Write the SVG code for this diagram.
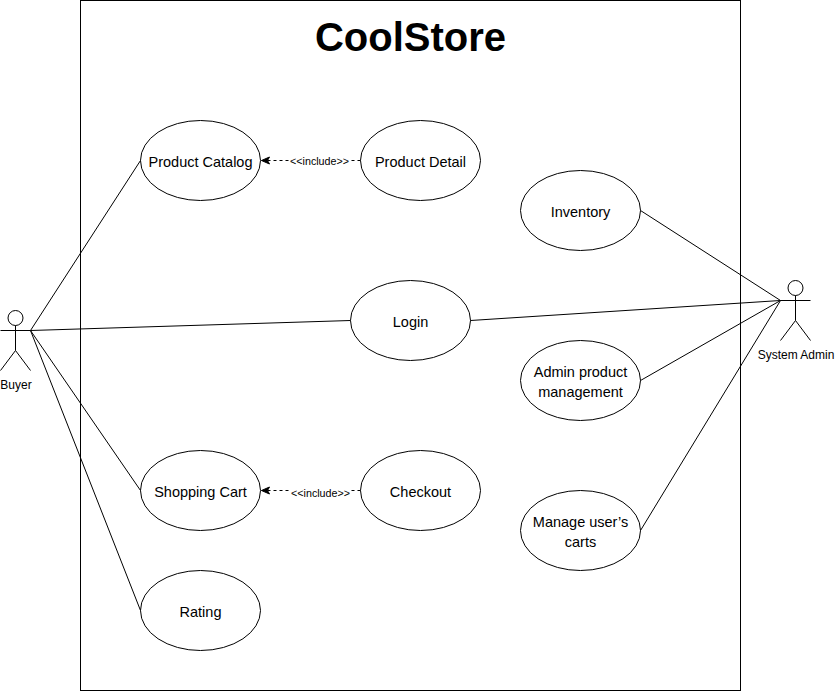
<svg xmlns="http://www.w3.org/2000/svg" width="835" height="691" viewBox="0 0 835 691">
<defs>
<marker id="arr" markerUnits="userSpaceOnUse" markerWidth="10" markerHeight="10" refX="9" refY="5" orient="auto"><path d="M1 1.5L9 5L1 8.5L3 5Z" fill="#000" stroke="#000" stroke-width="1"/></marker>
</defs>
<style>
text{font-family:"Liberation Sans",Arial,sans-serif;fill:#000;text-anchor:middle}
.uc{fill:#fff;stroke:#000;stroke-width:1}
.t{font-size:14.5px}
.a{font-size:12px}
.s{fill:none;stroke:#000;stroke-width:1}
.c{stroke:#000;stroke-width:1;fill:none}
.d{stroke:#000;stroke-width:1;fill:none;stroke-dasharray:3 3}
.l{font-size:10.7px}
</style>
<rect width="835" height="691" fill="#fff"/>
<g id="boundary"><rect x="80.5" y="0.5" width="660" height="690" fill="#fff" stroke="#000"/><text x="410.5" y="51" font-size="40" font-weight="bold">CoolStore</text></g>
<g id="buyer"><circle class="s" cx="15.5" cy="318" r="7.5"/><path class="s" d="M15.5 325.5V350.5M0.5 330.5H30.5M15.5 350.5L0.5 370.5M15.5 350.5L30.5 370.5"/><text class="a" x="16" y="389">Buyer</text></g>
<g id="system-admin"><circle class="s" cx="795.5" cy="288" r="7.5"/><path class="s" d="M795.5 295.5V320.5M780.5 300.5H810.5M795.5 320.5L780.5 340.5M795.5 320.5L810.5 340.5"/><text class="a" x="796" y="359">System Admin</text></g>
<g id="product-catalog"><ellipse class="uc" cx="200.5" cy="160.5" rx="60" ry="40"/><text class="t" x="200.5" y="167">Product Catalog</text></g>
<g id="product-detail"><ellipse class="uc" cx="420.5" cy="160.5" rx="60" ry="40"/><text class="t" x="420.5" y="167">Product Detail</text></g>
<g id="inventory"><ellipse class="uc" cx="580.5" cy="210.5" rx="60" ry="40"/><text class="t" x="580.5" y="217">Inventory</text></g>
<g id="login"><ellipse class="uc" cx="410.5" cy="320.5" rx="60" ry="40"/><text class="t" x="410.5" y="327">Login</text></g>
<g id="admin-product"><ellipse class="uc" cx="580.5" cy="380.5" rx="60" ry="40"/><text class="t" x="580.5" y="377">Admin product</text><text class="t" x="580.5" y="397">management</text></g>
<g id="shopping-cart"><ellipse class="uc" cx="200.5" cy="490.5" rx="60" ry="40"/><text class="t" x="200.5" y="497">Shopping Cart</text></g>
<g id="checkout"><ellipse class="uc" cx="420.5" cy="490.5" rx="60" ry="40"/><text class="t" x="420.5" y="497">Checkout</text></g>
<g id="manage-carts"><ellipse class="uc" cx="580.5" cy="530.5" rx="60" ry="40"/><text class="t" x="580.5" y="527">Manage user’s</text><text class="t" x="580.5" y="547">carts</text></g>
<g id="rating"><ellipse class="uc" cx="200.5" cy="610.5" rx="60" ry="40"/><text class="t" x="200.5" y="617">Rating</text></g>
<g id="connectors">
<path class="c" d="M30.5 330.5L140.5 160.5"/>
<path class="c" d="M30.5 330.5L350.5 320.5"/>
<path class="c" d="M30.5 330.5L140.5 490.5"/>
<path class="c" d="M30.5 330.5L140.5 610.5"/>
<path class="c" d="M470.5 320.5L780.5 300.5"/>
<path class="c" d="M640.5 210.5L780.5 300.5"/>
<path class="c" d="M640.5 380.5L780.5 300.5"/>
<path class="c" d="M640.5 530.5L780.5 300.5"/>
<path class="d" d="M360.5 160.5H261.5" marker-end="url(#arr)"/>
<path class="d" d="M360.5 490.5H261.5" marker-end="url(#arr)"/>
<rect x="290" y="155" width="59" height="12" fill="#fff"/>
<text class="l" x="319.5" y="164.5">&lt;&lt;include&gt;&gt;</text>
<rect x="291" y="487" width="59" height="12" fill="#fff"/>
<text class="l" x="320.5" y="496.5">&lt;&lt;include&gt;&gt;</text>
</g>
</svg>
